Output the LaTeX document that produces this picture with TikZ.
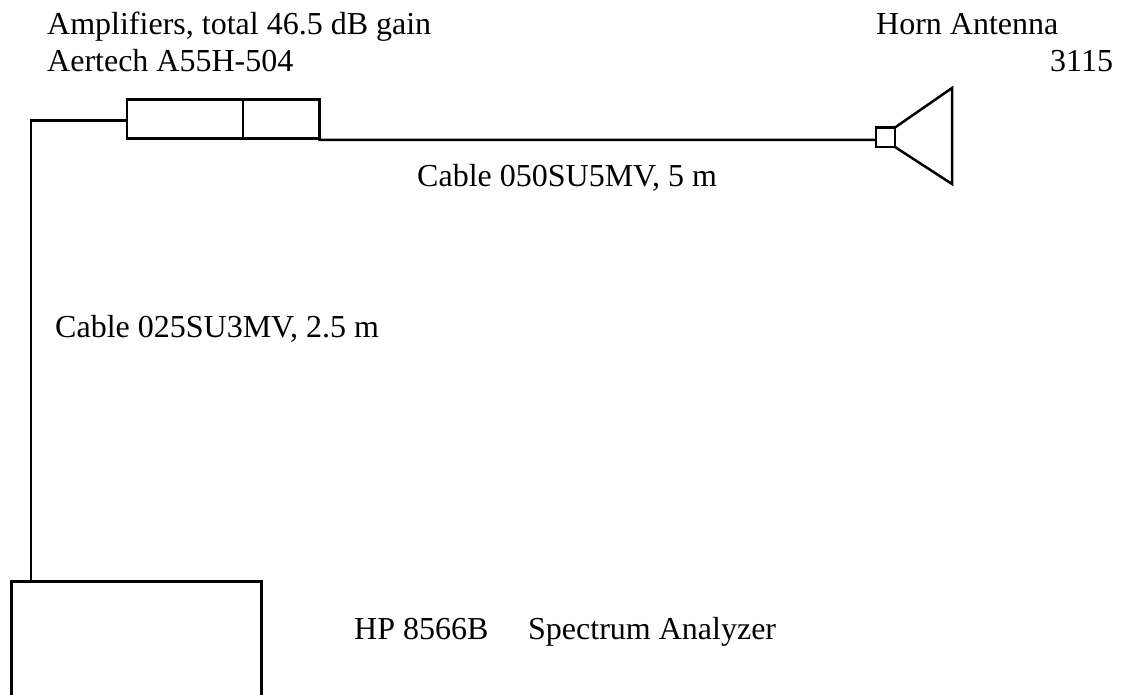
\documentclass[tikz,border=0pt]{standalone}
\usepackage{fontspec}
\setmainfont{Liberation Serif}
\tikzset{
  ln/.style={line width=2.5bp,black},
  part/.style={draw,line width=2.5bp,inner sep=0pt,outer sep=0pt,anchor=north west},
  lab/.style={inner sep=0pt,anchor=base west,font=\fontsize{32bp}{36bp}\selectfont}
}
\begin{document}
\begin{tikzpicture}[x=1bp,y=-1bp]
\useasboundingbox (0,0) rectangle (1127,695);
\node[lab] (t1) at (47,35) {Amplifiers, total 46.5 dB gain};
\node[lab] (t2) at (47,72) {Aertech A55H-504};
\node[lab] (t3) at (876,35) {Horn Antenna};
\node[lab] (t4) at (1050,72) {3115};
\node[lab] (t5) at (417,187) {Cable 050SU5MV, 5 m};
\node[lab] (t6) at (55,337) {Cable 025SU3MV, 2.5 m};
\node[lab] (t7) at (354,639) {HP 8566B};
\node[lab] (t8) at (528,639) {Spectrum Analyzer};
\node[part,minimum width=116bp,minimum height=39bp] (a1) at (127,99.5) {};
\node[part,minimum width=76.5bp,minimum height=39bp] (a2) at (243,99.5) {};
\node[part,minimum width=19bp,minimum height=19.5bp] (h) at (876,127.5) {};
\coordinate (c1) at (31,120.7);
\coordinate (sa) at (31,581.5);
\coordinate (c2) at (319.5,140);
\coordinate (c3) at (876,140);
\draw[ln] (11.5,695) -- (11.5,581.5) -- (261.5,581.5) -- (261.5,695);
\draw[ln] (sa) -- (c1) -- (a1.west|-c1);
\draw[ln] (a2.south east) -- (c2) -- (c3);
\draw[ln,line cap=round] (h.north east) -- (952,88) -- (952,184) -- (h.south east);
\end{tikzpicture}
\end{document}
